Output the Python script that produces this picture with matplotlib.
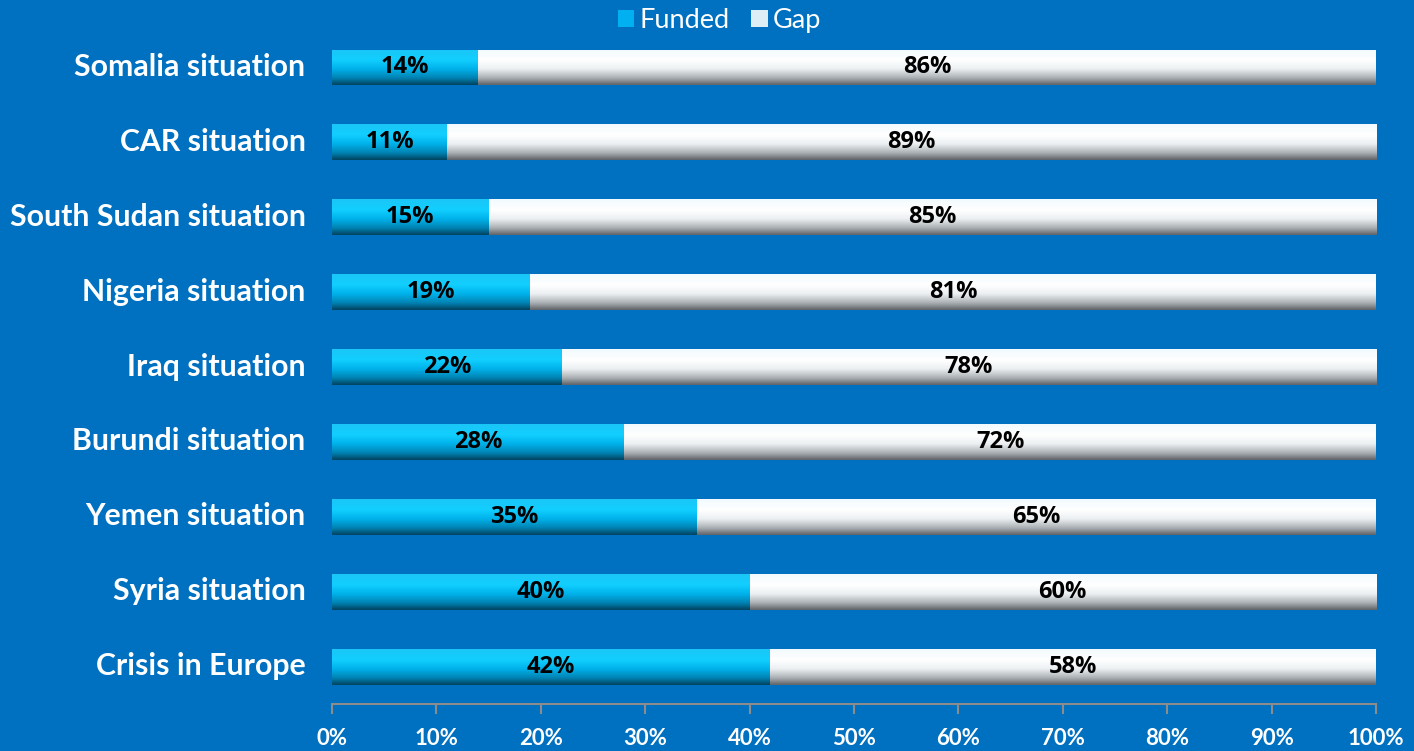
import numpy as np
import matplotlib
matplotlib.use("Agg")
import matplotlib.pyplot as plt
import matplotlib.transforms as mtransforms
from matplotlib.colors import LinearSegmentedColormap
from matplotlib.patches import Patch

categories = ["Somalia situation", "CAR situation", "South Sudan situation",
              "Nigeria situation", "Iraq situation", "Burundi situation",
              "Yemen situation", "Syria situation", "Crisis in Europe"]
funded = [14, 11, 15, 19, 22, 28, 35, 40, 42]
gap = [86, 89, 85, 81, 78, 72, 65, 60, 58]
xticks = [0, 10, 20, 30, 40, 50, 60, 70, 80, 90, 100]
xticklabels = ["0%", "10%", "20%", "30%", "40%", "50%", "60%", "70%", "80%", "90%", "100%"]

BG = "#0070C0"
fig = plt.figure(figsize=(14.14, 7.51), dpi=100, facecolor=BG)
ax = fig.add_axes([0.2348, 0.0626, 0.9731 - 0.2348, 0.960 - 0.0626])
ax.set_facecolor(BG)

y = np.arange(len(categories))
h = 0.48
b1 = ax.barh(y, funded, height=h, color="none", edgecolor="none")
b2 = ax.barh(y, gap, left=funded, height=h, color="none", edgecolor="none")

cyan_cmap = LinearSegmentedColormap.from_list("cy", [
    (0.0, "#1AC6F6"), (0.3, "#12CFFF"), (0.55, "#00B2EA"),
    (0.8, "#0083B4"), (1.0, "#00425E")])
white_cmap = LinearSegmentedColormap.from_list("wh", [
    (0.0, "#F2FAFD"), (0.3, "#FFFFFF"), (0.55, "#ECF0F2"),
    (0.8, "#ABB0B4"), (1.0, "#5E6266")])

grad = np.linspace(0, 1, 256).reshape(-1, 1)
for bars, cmap in ((b1, cyan_cmap), (b2, white_cmap)):
    for bar in bars:
        x0, y0 = bar.get_x(), bar.get_y()
        w, hh = bar.get_width(), bar.get_height()
        im = ax.imshow(grad, cmap=cmap, aspect="auto",
                       extent=(x0, x0 + w, y0 + hh, y0), zorder=2,
                       interpolation="bicubic")
        im.set_clip_path(bar)

for i in range(len(categories)):
    ax.text(funded[i] / 2, y[i], f"{funded[i]}%", ha="center", va="center",
            fontsize=17, fontweight="bold", color="black", family="Open Sans", zorder=3)
    ax.text(funded[i] + gap[i] / 2, y[i], f"{gap[i]}%", ha="center", va="center",
            fontsize=17, fontweight="bold", color="black", family="Open Sans", zorder=3)

ax.set_xlim(0, 100)
ax.set_ylim(len(categories) - 0.5, -0.5)
ax.set_yticks(y)
ax.set_yticklabels(categories, fontsize=21.8, fontweight="bold", color="white", family="Lato")
ax.tick_params(axis="y", length=0, pad=19)
shift = mtransforms.ScaledTranslation(0, 3 / 100, fig.dpi_scale_trans)
for t in ax.get_yticklabels():
    t.set_transform(t.get_transform() + shift)
ax.set_xticks(xticks)
ax.set_xticklabels(xticklabels, fontsize=16, fontweight="bold", color="white", family="Lato")
ax.tick_params(axis="x", length=7, width=1.5, color="#8C8C8C", direction="out", pad=10)
for s in ("top", "right", "left"):
    ax.spines[s].set_visible(False)
ax.spines["bottom"].set_color("#8C8C8C")
ax.spines["bottom"].set_linewidth(1.5)

handles = [Patch(facecolor="#00B0F0", edgecolor="none", label="Funded"),
           Patch(facecolor="#DDEEF6", edgecolor="none", label="Gap")]
leg = fig.legend(handles=handles, loc="upper center", bbox_to_anchor=(0.509, 1.022), ncol=2,
                 frameon=False, handlelength=0.6, handleheight=0.6,
                 handletextpad=0.2, columnspacing=0.8,
                 prop={"family": "Lato", "size": 19.5})
for t in leg.get_texts():
    t.set_color("white")

fig.savefig("out.png", dpi=100, facecolor=BG)
